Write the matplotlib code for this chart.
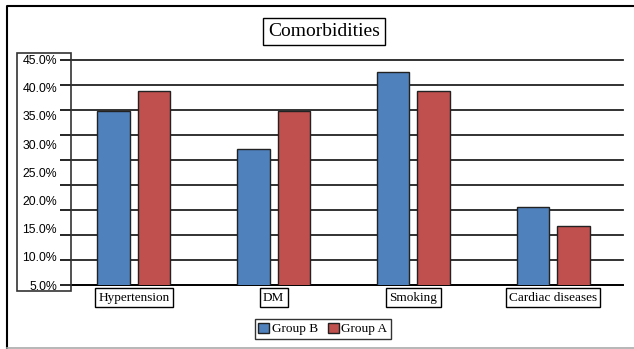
import matplotlib
matplotlib.use("Agg")
import matplotlib.pyplot as plt
from matplotlib.patches import Rectangle
from matplotlib.lines import Line2D
import numpy as np

categories = ["Hypertension", "DM", "Smoking", "Cardiac diseases"]
group_b = [35.9, 29.1, 42.7, 18.8]
group_a = [39.5, 35.8, 39.4, 15.4]
series_names = ["Group B", "Group A"]
ytick_values = [5, 10, 15, 20, 25, 30, 35, 40, 45]
ytick_labels = ["5.0%", "10.0%", "15.0%", "20.0%", "25.0%", "30.0%", "35.0%", "40.0%", "45.0%"]

W, H = 634, 349
fig = plt.figure(figsize=(W / 100, H / 100), dpi=100)

def fx(px):
    return px / W

def fy(py):
    return 1 - py / H

serif = ["Liberation Serif", "DejaVu Serif"]
narrow = ["Liberation Sans Narrow", "Liberation Sans", "DejaVu Sans"]

ax = fig.add_axes([fx(71), fy(285), fx(623) - fx(71), fy(59.5) - fy(285)])

x = np.arange(len(categories))
bw = 0.232
off = 0.145
blue = "#4F81BD"
red = "#C0504D"
bars_b = ax.bar(x - off, group_b, bw, bottom=0, color=blue, edgecolor="#222222", linewidth=1.0, zorder=3, label=series_names[0])
bars_a = ax.bar(x + off, group_a, bw, bottom=0, color=red, edgecolor="#222222", linewidth=1.0, zorder=3, label=series_names[1])

ax.set_xlim(-0.45, 3.5)
ax.set_ylim(5, 45)

# gridlines (10 evenly spaced lines as in the original rendering)
ax.yaxis.remove_overlapping_locs = False
ax.set_yticks(np.linspace(5, 45, 10), minor=True)
ax.set_yticks(ytick_values)
ax.set_yticklabels(ytick_labels, family=narrow, fontsize=8.8)
ax.tick_params(axis="y", which="major", length=0, pad=10)
ax.tick_params(axis="y", which="minor", length=8, width=1.2, color="black", direction="out")
ax.grid(axis="y", which="minor", color="#222222", linewidth=1.3, zorder=0)
for t in ax.yaxis.get_minor_ticks():
    t.gridline.set_clip_on(False)
ax.set_xticks([])

for s in ["top", "right", "left"]:
    ax.spines[s].set_visible(False)
ax.spines["bottom"].set_color("black")
ax.spines["bottom"].set_linewidth(1.3)

# y label box
fig.patches.append(Rectangle((fx(17), fy(291)), fx(71) - fx(17), fy(53) - fy(291),
                             transform=fig.transFigure, fill=False, edgecolor="#333333", linewidth=1.2))
# outer border
fig.lines.append(Line2D([fx(7), fx(7), fx(634)], [fy(348), fy(6), fy(6)], transform=fig.transFigure,
                        color="black", linewidth=1.5))
fig.lines.append(Line2D([fx(7), fx(634)], [fy(348), fy(348)], transform=fig.transFigure,
                        color="#aaaaaa", linewidth=1.2))

# category labels in boxes
for i, c in enumerate(categories):
    ax.text(x[i], -0.03, c, transform=ax.get_xaxis_transform(), ha="center", va="top",
            family=serif, fontsize=9.5,
            bbox=dict(boxstyle="square,pad=0.25", facecolor="white", edgecolor="black", linewidth=1.0))

# title
fig.text(fx(324), fy(31.5), "Comorbidities", ha="center", va="center", family=serif, fontsize=14,
         bbox=dict(boxstyle="square,pad=0.25", facecolor="white", edgecolor="black", linewidth=1.0))

leg = fig.legend(handles=[bars_b, bars_a], labels=series_names, loc="center",
                 bbox_to_anchor=(fx(323), fy(329)), ncol=2, frameon=True, fancybox=False,
                 edgecolor="black", prop={"family": serif, "size": 9.5},
                 handlelength=0.8, handleheight=0.8, handletextpad=0.2, columnspacing=0.8,
                 borderpad=0.25, borderaxespad=0)
leg.get_frame().set_linewidth(1.0)

fig.savefig("out.png", dpi=100)
